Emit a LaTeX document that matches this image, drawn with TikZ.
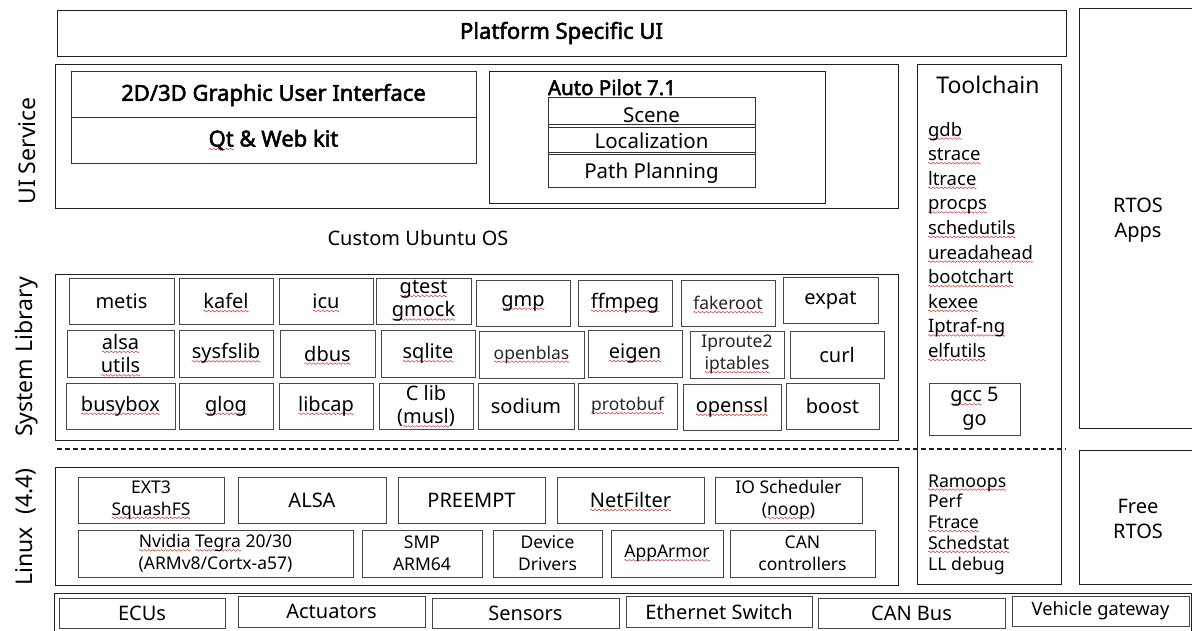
\documentclass[tikz,border=0pt]{standalone}
\usepackage{fontspec}
\setmainfont{Noto Sans}[AutoFakeBold=2.4]
\definecolor{wavered}{HTML}{E5393B}
\newsavebox\wavebox
\newsavebox\wavytmp
% red wavy underline under a word
\newcommand\wavy[1]{\sbox\wavytmp{#1}\rlap{\raisebox{-2.6pt}[0pt][0pt]{\hbox to \wd\wavytmp{\xleaders\copy\wavebox\hfil}}}\usebox\wavytmp}
\newcommand\fsz[2]{\fontsize{#1}{#2}\selectfont}
% rectangle node given by its corners: [style]{name}{x1}{y1}{x2}{y2}{text}
\newcommand\cellbox[7][]{%
  \pgfmathsetmacro\cbw{#5-#3}%
  \pgfmathsetmacro\cbh{#6-#4}%
  \node[cell,#1,minimum width=\cbw pt,minimum height=\cbh pt] (#2) at ({(#3+#5)/2},{(#4+#6)/2}) {#7};}
\tikzset{
  cell/.style={draw=black!72,line width=0.9pt,inner sep=0pt,outer sep=0pt,align=center,font=\fsz{20}{23.5}},
  frame/.style={draw=black!88},
  light/.style={font=\fsz{17.5}{22},text=black!85},
  small/.style={font=\fsz{17.5}{22}},
  txt/.style={inner sep=0pt,outer sep=0pt,align=center},
  boldtxt/.style={txt,font=\bfseries\fsz{22}{26}},
  vlabel/.style={txt,rotate=90,font=\fsz{23}{26}},
  listitem/.style={inner sep=0pt,outer sep=0pt,anchor=base west},
  sep/.style={draw=black!88,line width=1.6pt,dash pattern=on 5pt off 3pt},
  divider/.style={draw=black!80,line width=0.9pt},
}
\begin{document}
\begin{tikzpicture}[x=1pt,y=-1pt]
% one period of the wavy underline
\global\setbox\wavebox\hbox{%
  \pgfpicture
    \pgfsetbaseline{0pt}%
    \pgfpathrectangle{\pgfpoint{0pt}{-1pt}}{\pgfpoint{4pt}{2pt}}%
    \pgfusepath{use as bounding box}%
    \pgfsetlinewidth{0.55pt}%
    \pgfsetstrokecolor{wavered}%
    \pgfpathmoveto{\pgfpoint{0pt}{0pt}}%
    \pgfpathsine{\pgfpoint{1pt}{0.8pt}}%
    \pgfpathcosine{\pgfpoint{1pt}{-0.8pt}}%
    \pgfpathsine{\pgfpoint{1pt}{-0.8pt}}%
    \pgfpathcosine{\pgfpoint{1pt}{0.8pt}}%
    \pgfusepath{stroke}%
  \endpgfpicture}%
\useasboundingbox (0,0) rectangle (1192,629);
\fill[white] (0,0) rectangle (1192,629);

% ---- layer labels
\node[vlabel] (lblui) at (27,150) {UI Service};
\node[vlabel] (lblsys) at (27,356) {System Library};
\node[vlabel] (lbllinux) at (26,526) {Linux\ \ (4.4)};

% ---- top banner
\cellbox[frame,font=\bfseries\fsz{22}{27}]{platform}{57}{9}{1066}{55}{Platform Specific UI}

% ---- RTOS column
\cellbox[frame]{rtosapps}{1079}{7}{1205}{427}{}
\node[txt,font=\fsz{20}{25}] (rtosappstxt) at (1138,219) {RTOS\\Apps};
\cellbox[frame]{freertos}{1079}{449}{1205}{583}{}
\node[txt,font=\fsz{20}{25}] (freertostxt) at (1138,518) {Free\\RTOS};

% ---- UI service
\cellbox[frame]{uiservice}{55}{63}{898}{207}{}
\cellbox[draw=black!80]{gui}{71}{70}{476}{162}{}
\draw[divider] (71,116) -- (476,116);
\node[boldtxt] (guititle) at (273.5,94) {2D/3D Graphic User Interface};
\node[boldtxt] (qtweb) at (273.5,139) {\wavy{Qt} \& Web kit};

\cellbox[frame]{autopilot}{489}{70}{825}{202}{}
\node[listitem,font=\bfseries\fsz{20.5}{25}] (aptitle) at (548,94) {Auto Pilot 7.1};
\cellbox[draw=black!80]{apstack}{548}{96}{755}{186}{}
\draw[divider] (548,123) -- (755,123) (548,126) -- (755,126)
               (548,151) -- (755,151) (548,153) -- (755,153);
\node[txt,anchor=base,font=\fsz{20.5}{24}] (scene) at (651.5,121) {Scene};
\node[txt,anchor=base,font=\fsz{20.5}{24}] (localization) at (651.5,147) {Localization};
\node[txt,anchor=base,font=\fsz{20.5}{24}] (pathplan) at (651.5,177) {Path Planning};

\node[txt,font=\fsz{20}{24}] (ubuntu) at (418,237) {Custom Ubuntu OS};

% ---- system libraries
\cellbox[frame]{syslib}{55}{273}{898}{439}{}
\cellbox{metis}{69}{277}{174}{323}{metis}
\cellbox{kafel}{179}{277}{273}{323}{\wavy{kafel}}
\cellbox{icu}{279}{277}{373}{323}{\wavy{icu}}
\cellbox{gtest}{376}{277}{471}{323}{\wavy{gtest}\\\wavy{gmock}}
\cellbox{gmp}{476}{279}{570}{325}{\wavy{gmp}}
\cellbox{ffmpeg}{578}{279}{672}{325}{\wavy{ffmpeg}}
\cellbox[light]{fakeroot}{681}{279}{775}{325}{\wavy{fakeroot}}
\cellbox{expat}{783}{276}{878}{322}{expat}

\cellbox{alsautils}{67}{329}{174}{376}{\wavy{alsa}\\\wavy{utils}}
\cellbox{sysfslib}{179}{329}{273}{376}{\wavy{sysfslib}}
\cellbox{dbus}{280}{329}{375}{376}{\wavy{dbus}}
\cellbox{sqlite}{381}{329}{475}{376}{\wavy{sqlite}}
\cellbox[light]{openblas}{479}{330}{584}{377}{\wavy{openblas}}
\cellbox{eigen}{588}{329}{682}{376}{\wavy{eigen}}
\cellbox[light]{iproute}{690}{330}{784}{377}{Iproute2\\\wavy{iptables}}
\cellbox{curl}{790}{330}{884}{377}{curl}

\cellbox{busybox}{66}{382}{175}{428}{\wavy{busybox}}
\cellbox{glog}{179}{382}{273}{428}{\wavy{glog}}
\cellbox{libcap}{279}{382}{373}{428}{\wavy{libcap}}
\cellbox{clib}{379}{382}{473}{428}{C lib\\(\wavy{musl})}
\cellbox{sodium}{478}{382}{574}{428}{sodium}
\cellbox[light]{protobuf}{578}{382}{677}{428}{\wavy{protobuf}}
\cellbox{openssl}{683}{383}{781}{429}{\wavy{openssl}}
\cellbox{boost}{786}{382}{879}{428}{boost}

% ---- user space / kernel boundary
\coordinate (sepL) at (57,448);
\coordinate (sepR) at (1066,448);
\draw[sep] (sepL) -- (sepR);

% ---- toolchain
\cellbox[frame]{toolchain}{917}{63}{1061}{583}{}
\node[txt,anchor=base,font=\fsz{23}{27}] (tctitle) at (988,92) {Toolchain};
\foreach \tool [count=\k from 0] in {gdb,strace,ltrace,procps,schedutils,ureadahead,bootchart,kexee,Iptraf-ng,elfutils}
  \node[listitem,font=\fsz{18.5}{22}] (tool\k) at (928,{135+24.6*\k}) {\wavy{\tool}};
\cellbox[font=\fsz{20}{24}]{gccgo}{929}{382}{1020}{434}{\wavy{gcc} 5\\go}
\node[listitem,font=\fsz{17.7}{21}] (ramoops) at (928,486) {\wavy{Ramoops}};
\node[listitem,font=\fsz{17.7}{21}] (perf) at (928,506.75) {Perf};
\node[listitem,font=\fsz{17.7}{21}] (ftrace) at (928,527.5) {\wavy{Ftrace}};
\node[listitem,font=\fsz{17.7}{21}] (schedstat) at (928,548.25) {\wavy{Schedstat}};
\node[listitem,font=\fsz{17.7}{21}] (lldebug) at (928,569) {LL debug};

% ---- Linux kernel
\cellbox[frame]{linux}{55}{466}{898}{584}{}
\cellbox[small]{fs}{78}{476}{224}{522}{EXT3\\\wavy{SquashFS}}
\cellbox{alsak}{238}{476}{386}{522}{ALSA}
\cellbox{preempt}{398}{476}{545}{522}{PREEMPT}
\cellbox{netfilter}{557}{476}{704}{522}{\wavy{NetFilter}}
\cellbox[small]{iosched}{715}{476}{862}{522}{IO Scheduler\\(\wavy{noop})}
\cellbox[small]{tegra}{78}{529}{353}{576}{\wavy{Nvidia} \wavy{Tegra} 20/30\\(ARMv8/Cortx-a57)}
\cellbox[small]{smp}{362}{529}{482}{576}{SMP\\ARM64}
\cellbox[small]{drivers}{493}{529}{602}{576}{Device\\Drivers}
\cellbox[small]{apparmor}{611}{529}{723}{576}{\wavy{AppArmor}}
\cellbox[small]{canctl}{730}{529}{875}{576}{CAN\\controllers}

% ---- hardware
\cellbox[frame]{hardware}{54}{592}{1191}{660}{}
\cellbox{ecus}{59}{597}{225}{627}{ECUs}
\cellbox{actuators}{238}{595}{425}{626}{Actuators}
\cellbox{sensors}{432}{597}{619}{627}{Sensors}
\cellbox{ethernet}{626}{595}{812}{626}{Ethernet Switch}
\cellbox{canbus}{818}{597}{1005}{627}{CAN Bus}
\cellbox[font=\fsz{18.3}{22}]{gateway}{1012}{595}{1189}{625}{Vehicle gateway}
\end{tikzpicture}
\end{document}
